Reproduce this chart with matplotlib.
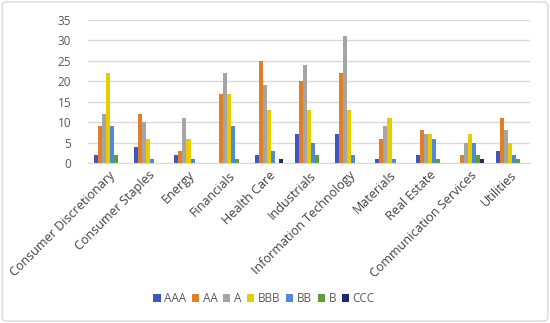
import matplotlib
matplotlib.use("Agg")
import matplotlib.pyplot as plt
from matplotlib.patches import FancyBboxPatch
import numpy as np

categories = ["Consumer Discretionary", "Consumer Staples", "Energy", "Financials",
              "Health Care", "Industrials", "Information Technology", "Materials",
              "Real Estate", "Communication Services", "Utilities"]
series_names = ["AAA", "AA", "A", "BBB", "BB", "B", "CCC"]
AAA = [2, 4, 2, 0, 2, 7, 7, 1, 2, 0, 3]
AA = [9, 12, 3, 17, 25, 20, 22, 6, 8, 2, 11]
A = [12, 10, 11, 22, 19, 24, 31, 9, 7, 5, 8]
BBB = [22, 6, 6, 17, 13, 13, 13, 11, 7, 7, 5]
BB = [9, 1, 1, 9, 3, 5, 2, 1, 6, 5, 2]
B = [2, 0, 0, 1, 0, 2, 0, 0, 1, 2, 1]
CCC = [0, 0, 0, 0, 1, 0, 0, 0, 0, 1, 0]
yticks = [0, 5, 10, 15, 20, 25, 30, 35]

colors = ["#4055C0", "#E07E2A", "#A5A5A5", "#E8CC00", "#4F8AD8", "#5E9E3A", "#1F2A6B"]
data = [AAA, AA, A, BBB, BB, B, CCC]

plt.rcParams['font.family'] = ['Open Sans', 'DejaVu Sans']
fig = plt.figure(figsize=(5.5, 3.23), dpi=100)
fig.patches.append(FancyBboxPatch((0.004, 0.006), 0.992, 0.988, boxstyle="round,pad=0,rounding_size=0.01",
                                  transform=fig.transFigure, fill=False, edgecolor="#D9D9D9", linewidth=1))
ax = fig.add_axes([0.16, 0.495, 0.804, 0.443])

x = np.arange(len(categories))
n = len(series_names)
w = 0.1
for i, (name, vals, c) in enumerate(zip(series_names, data, colors)):
    ax.bar(x + (i - (n - 1) / 2) * w, vals, width=w, color=c, label=name)

ax.set_ylim(0, 35)
ax.set_xlim(-0.5, len(categories) - 0.5)
ax.set_yticks(yticks)
ax.yaxis.grid(True, color="#D9D9D9", linewidth=1)
ax.set_axisbelow(True)
for s in ["top", "right", "left"]:
    ax.spines[s].set_visible(False)
ax.spines["bottom"].set_color("#D9D9D9")
ax.tick_params(axis="y", length=0, labelsize=8.5, labelcolor="#595959", pad=12)
ax.tick_params(axis="x", length=0, labelsize=9.0, labelcolor="#404040", pad=4)
ax.set_xticks(x)
ax.set_xticklabels(categories, rotation=45, ha="right", rotation_mode="anchor")

ax.legend(loc="center", bbox_to_anchor=(0.48, 0.075), bbox_transform=fig.transFigure, ncol=7,
          frameon=False, fontsize=8.5, handlelength=0.6, handleheight=0.6, handletextpad=0.3,
          columnspacing=0.5, labelcolor="#595959")

fig.savefig("out.png", dpi=100)
